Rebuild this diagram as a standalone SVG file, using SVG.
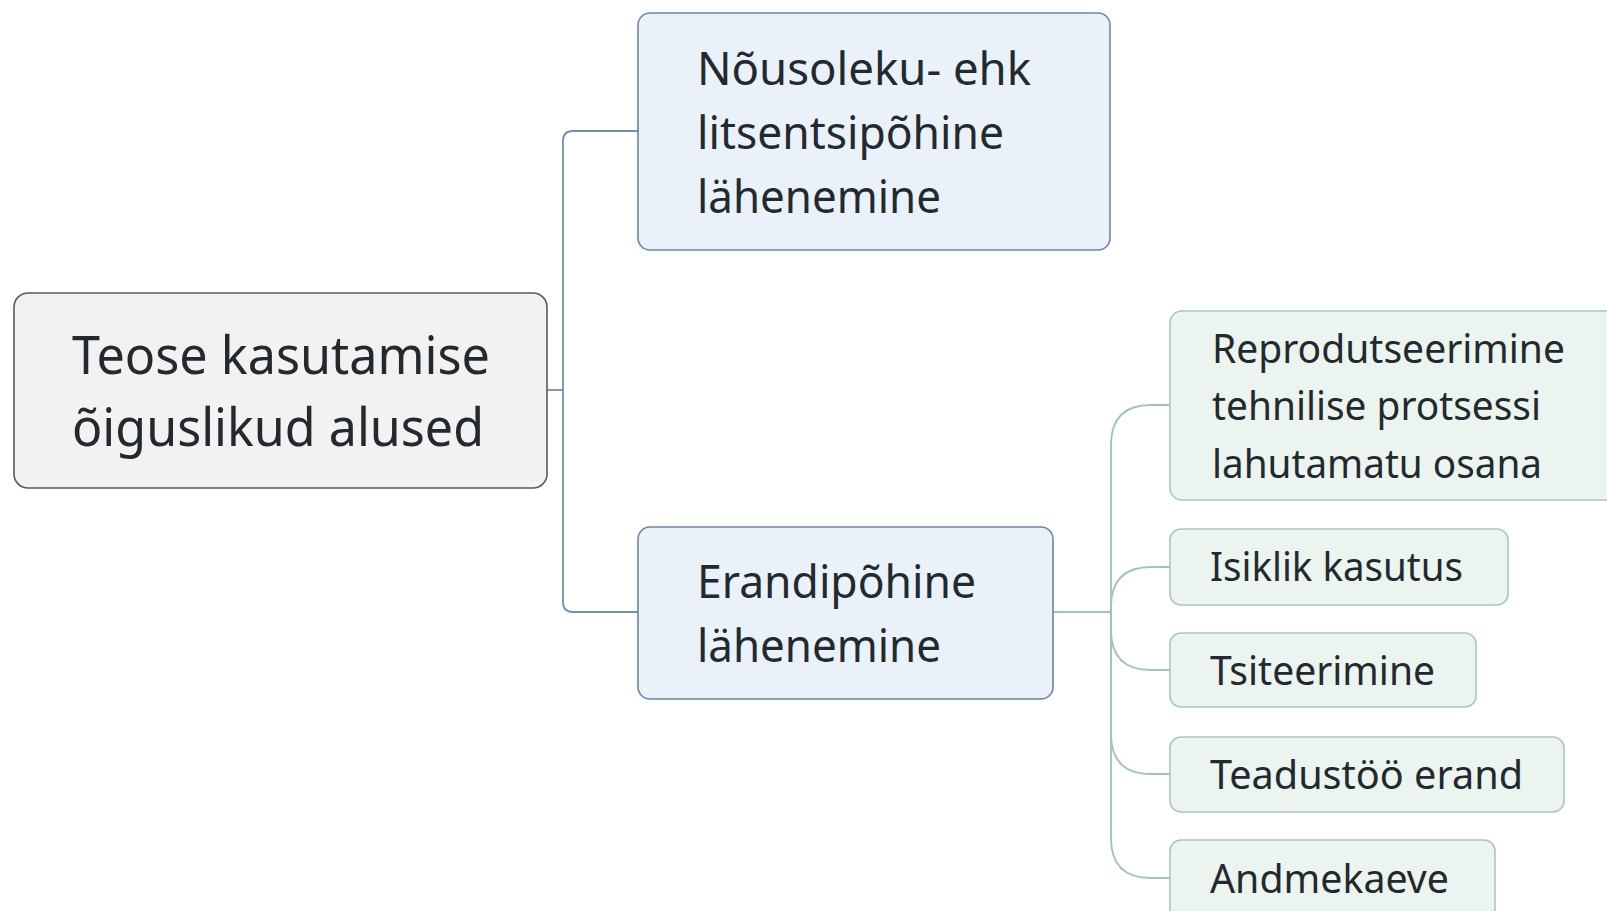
<svg xmlns="http://www.w3.org/2000/svg" width="1607" height="911" viewBox="0 0 1607 911">
<style>
text{font-family:"Noto Sans","Open Sans","DejaVu Sans",sans-serif;fill:#222a30}
.root{fill:#f2f2f2;stroke:#5a5a5a;stroke-width:1.6}
.blue{fill:#ebf1f9;stroke:#6a86a6;stroke-width:1.6}
.green{fill:#ebf4ee;stroke:#a6cbb3;stroke-width:1.6}
.cb{fill:none;stroke:#7190b0;stroke-width:1.8}
.cg{fill:none;stroke:#9cc8ad;stroke-width:1.8}
.t1{font-size:52px}
.t2{font-size:45px}
.t3{font-size:40px}
</style>
<rect width="1607" height="911" fill="#ffffff"/>
<g id="connectors">
<path class="cb" d="M547 390 H563"/>
<path class="cb" d="M638 131 H573 Q563 131 563 141 V602 Q563 612 573 612 H638"/>
<path class="cg" d="M1053 612 H1111"/>
<path class="cg" d="M1111 612 V445 Q1111 405 1151 405 H1170"/>
<path class="cg" d="M1111 612 V607 Q1111 567 1151 567 H1170"/>
<path class="cg" d="M1111 612 V630 Q1111 670 1151 670 H1170"/>
<path class="cg" d="M1111 612 V734 Q1111 774 1151 774 H1170"/>
<path class="cg" d="M1111 612 V838 Q1111 878 1151 878 H1170"/>
</g>
<g id="root">
<rect class="root" x="14" y="293" width="533" height="195" rx="14"/>
<text class="t1" x="72" y="374" textLength="418" lengthAdjust="spacingAndGlyphs">Teose kasutamise</text>
<text class="t1" x="72" y="446" textLength="412" lengthAdjust="spacingAndGlyphs">õiguslikud alused</text>
</g>
<g id="nousoleku">
<rect class="blue" x="638" y="13" width="472" height="237" rx="12"/>
<text class="t2" x="697" y="85" textLength="334" lengthAdjust="spacingAndGlyphs">Nõusoleku- ehk</text>
<text class="t2" x="697" y="149" textLength="307" lengthAdjust="spacingAndGlyphs">litsentsipõhine</text>
<text class="t2" x="697" y="213" textLength="244" lengthAdjust="spacingAndGlyphs">lähenemine</text>
</g>
<g id="erandi">
<rect class="blue" x="638" y="527" width="415" height="172" rx="12"/>
<text class="t2" x="697" y="598" textLength="279" lengthAdjust="spacingAndGlyphs">Erandipõhine</text>
<text class="t2" x="697" y="662" textLength="244" lengthAdjust="spacingAndGlyphs">lähenemine</text>
</g>
<g id="repro">
<rect class="green" x="1170" y="311" width="450" height="189" rx="12"/>
<text class="t3" x="1212" y="363" textLength="353" lengthAdjust="spacingAndGlyphs">Reprodutseerimine</text>
<text class="t3" x="1212" y="420" textLength="329" lengthAdjust="spacingAndGlyphs">tehnilise protsessi</text>
<text class="t3" x="1212" y="478" textLength="330" lengthAdjust="spacingAndGlyphs">lahutamatu osana</text>
</g>
<g id="isiklik">
<rect class="green" x="1170" y="529" width="338" height="76" rx="11"/>
<text class="t3" x="1210" y="581" textLength="253" lengthAdjust="spacingAndGlyphs">Isiklik kasutus</text>
</g>
<g id="tsiteerimine">
<rect class="green" x="1170" y="633" width="306" height="74" rx="11"/>
<text class="t3" x="1210" y="685" textLength="225" lengthAdjust="spacingAndGlyphs">Tsiteerimine</text>
</g>
<g id="teadustoo">
<rect class="green" x="1170" y="737" width="394" height="75" rx="11"/>
<text class="t3" x="1210" y="789" textLength="313" lengthAdjust="spacingAndGlyphs">Teadustöö erand</text>
</g>
<g id="andmekaeve">
<rect class="green" x="1170" y="840" width="325" height="90" rx="11"/>
<text class="t3" x="1210" y="893" textLength="239" lengthAdjust="spacingAndGlyphs">Andmekaeve</text>
</g>
</svg>
